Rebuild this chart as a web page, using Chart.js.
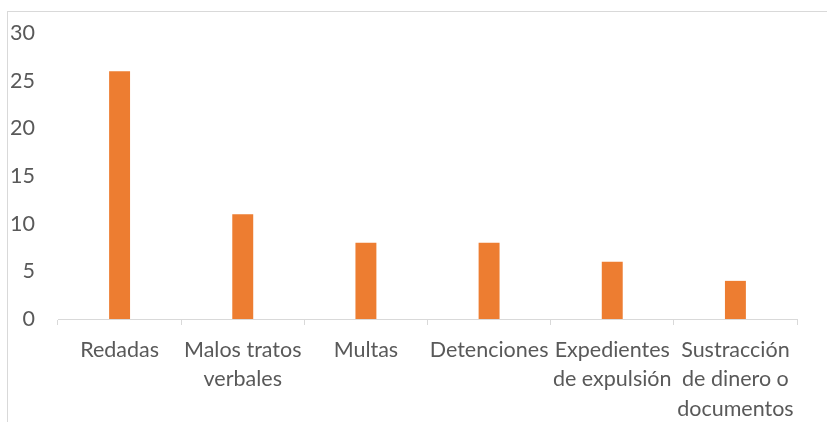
<!DOCTYPE html>
<html>
<head>
<meta charset="utf-8">
<script src="https://cdn.jsdelivr.net/npm/chart.js@4.4.0/dist/chart.umd.min.js"></script>
<style>
	html, body { margin: 0; padding: 0; background: #fff; }
	#wrap { position: relative; width: 827px; height: 422px; overflow: hidden; }
	#frame { position: absolute; left: 7px; top: 11px; width: 900px; height: 500px; border: 1px solid #d9d9d9; box-sizing: border-box; }
	canvas { position: absolute; left: 0; top: 0; }
</style>
</head>
<body>
<div id="wrap">
	<div id="frame"></div>
	<canvas id="chart" width="827" height="422"></canvas>
</div>
<script>
// Categories and counts
const categories = [
	'Redadas',
	[ 'Malos tratos', 'verbales' ],
	'Multas',
	'Detenciones',
	[ 'Expedientes', 'de expulsión' ],
	[ 'Sustracción', 'de dinero o', 'documentos' ]
];
const counts = [ 26, 11, 8, 8, 6, 4 ];
const yTicks = [ 0, 5, 10, 15, 20, 25, 30 ];

const textColor = '#595959';
const fontFamily = 'Lato, "Open Sans", sans-serif';

const ctx = document.getElementById( 'chart' ).getContext( '2d' );
new Chart( ctx, {
	type: 'bar',
	data: {
		labels: categories,
		datasets: [
			{
				data: counts,
				backgroundColor: '#ed7d31',
				categoryPercentage: 1,
				barPercentage: 0.17
			}
		]
	},
	options: {
		responsive: false,
		animation: false,
		layout: { padding: { top: 33, right: 30, left: 0, bottom: 0 } },
		plugins: {
			legend: { display: false },
			tooltip: { enabled: false }
		},
		scales: {
			x: {
				grid: { display: true, drawOnChartArea: false, drawTicks: true, tickLength: 6, color: '#d9d9d9', offset: true },
				border: { display: true, color: '#d9d9d9' },
				ticks: {
					color: textColor,
					font: { family: fontFamily, size: 21.5, lineHeight: 1.38 },
					padding: 10,
					maxRotation: 0,
					autoSkip: false
				},
				afterFit: function ( scale ) { scale.height = 103; }
			},
			y: {
				min: 0,
				max: 30,
				afterBuildTicks: function ( scale ) {
					scale.ticks = yTicks.map( v => ( { value: v } ) );
				},
				grid: { display: false },
				border: { display: false },
				ticks: {
					color: textColor,
					font: { family: fontFamily, size: 21.5 },
					padding: 15
				},
				afterFit: function ( scale ) { scale.width = 58; }
			}
		}
	}
} );
</script>
</body>
</html>
